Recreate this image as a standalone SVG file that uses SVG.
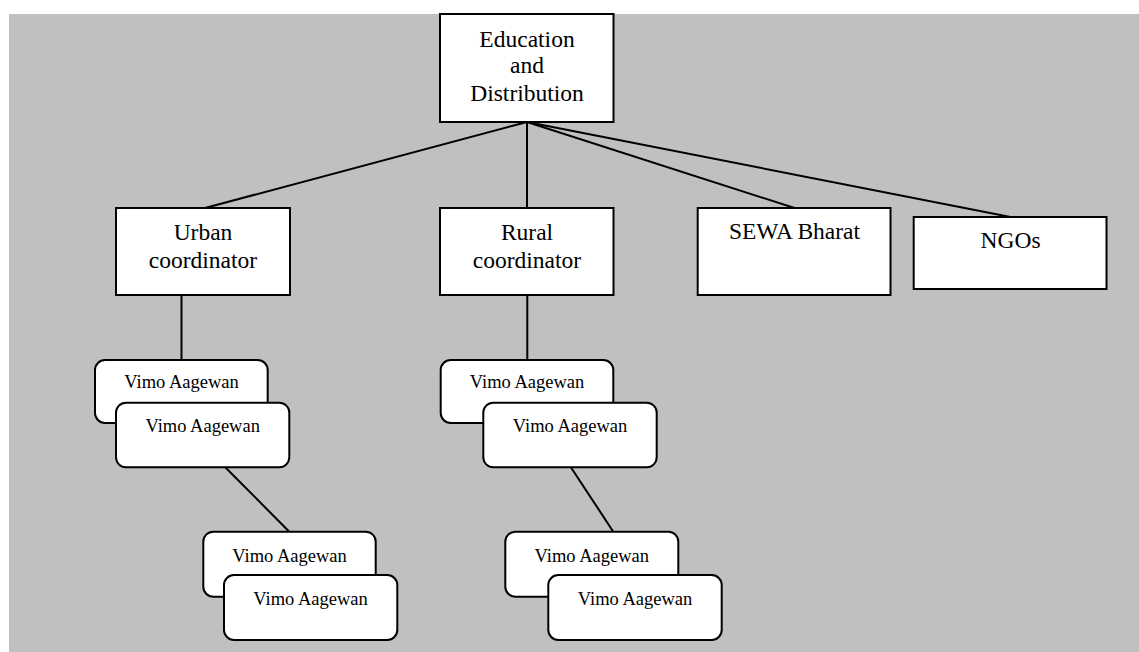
<svg xmlns="http://www.w3.org/2000/svg" width="1139" height="652" viewBox="0 0 1139 652">
<style>
.bg{fill:#c0c0c0}
.box{fill:#ffffff;stroke:#000;stroke-width:2}
.rbox{fill:#ffffff;stroke:#000;stroke-width:2}
text{font-family:"Liberation Serif",serif;fill:#000;text-anchor:middle}
.lbl{font-size:23.5px}
.sm{font-size:18.5px}
.con line{stroke:#000;stroke-width:2}
</style>
<rect class="bg" x="9" y="14" width="1130" height="638"/>
<g class="con">
<line x1="527" y1="122" x2="205" y2="208"/>
<line x1="527" y1="122" x2="527" y2="208"/>
<line x1="527" y1="122" x2="794.5" y2="208"/>
<line x1="527" y1="122" x2="1010.5" y2="217"/>
<line x1="181.5" y1="295" x2="181.5" y2="360"/>
<line x1="527.3" y1="295" x2="527.3" y2="360"/>
<line x1="225" y1="467" x2="289.3" y2="531.7"/>
<line x1="570.7" y1="467" x2="613.3" y2="531.7"/>
</g>
<g id="education">
<rect class="box" x="440" y="14" width="173.5" height="108"/>
<text class="lbl" x="527" y="47">Education</text>
<text class="lbl" x="527" y="73">and</text>
<text class="lbl" x="527" y="101">Distribution</text>
</g>
<g id="urban">
<rect class="box" x="116" y="208" width="174" height="87"/>
<text class="lbl" x="203" y="240">Urban</text>
<text class="lbl" x="203" y="268">coordinator</text>
</g>
<g id="rural">
<rect class="box" x="440" y="208" width="173.5" height="87"/>
<text class="lbl" x="527" y="240">Rural</text>
<text class="lbl" x="527" y="268">coordinator</text>
</g>
<g id="sewa">
<rect class="box" x="697.7" y="208" width="192.8" height="87"/>
<text class="lbl" x="794.5" y="239">SEWA Bharat</text>
</g>
<g id="ngos">
<rect class="box" x="913.7" y="217" width="192.8" height="72"/>
<text class="lbl" x="1010.5" y="248">NGOs</text>
</g>
<g id="urban-vimo1">
<rect class="rbox" x="95" y="360" width="172.7" height="63" rx="10"/>
<text class="sm" x="181.5" y="388">Vimo Aagewan</text>
</g>
<g id="urban-vimo2">
<rect class="rbox" x="116" y="402.7" width="173.3" height="64.6" rx="10"/>
<text class="sm" x="202.7" y="431.7">Vimo Aagewan</text>
</g>
<g id="urban-vimo3">
<rect class="rbox" x="203.3" y="531.7" width="172.4" height="65" rx="10"/>
<text class="sm" x="289.5" y="561.7">Vimo Aagewan</text>
</g>
<g id="urban-vimo4">
<rect class="rbox" x="224" y="575" width="173.3" height="65" rx="10"/>
<text class="sm" x="310.6" y="605">Vimo Aagewan</text>
</g>
<g id="rural-vimo1">
<rect class="rbox" x="440.7" y="360" width="172.6" height="63" rx="10"/>
<text class="sm" x="527" y="388">Vimo Aagewan</text>
</g>
<g id="rural-vimo2">
<rect class="rbox" x="483.3" y="402.7" width="173.4" height="64.6" rx="10"/>
<text class="sm" x="570" y="431.7">Vimo Aagewan</text>
</g>
<g id="rural-vimo3">
<rect class="rbox" x="505.3" y="531.7" width="173" height="65" rx="10"/>
<text class="sm" x="591.8" y="561.7">Vimo Aagewan</text>
</g>
<g id="rural-vimo4">
<rect class="rbox" x="548.3" y="575" width="173.4" height="65" rx="10"/>
<text class="sm" x="635" y="605">Vimo Aagewan</text>
</g>
</svg>
